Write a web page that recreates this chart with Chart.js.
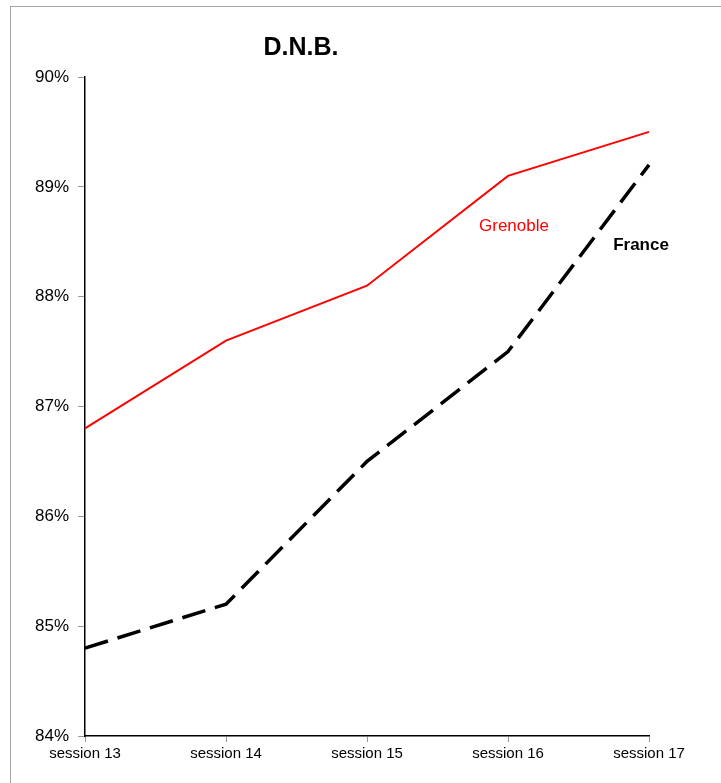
<!DOCTYPE html>
<html>
<head>
<meta charset="utf-8">
<script src="https://cdn.jsdelivr.net/npm/chart.js@4/dist/chart.umd.min.js"></script>
<style>
  html, body { margin: 0; padding: 0; background: #fff; }
  #wrap { position: relative; width: 721px; height: 783px; overflow: hidden; }
  #frame { position: absolute; left: 10px; top: 6px; width: 720px; height: 800px;
           border-top: 1px solid #a6a6a6; border-left: 1px solid #a6a6a6; }
  canvas { position: absolute; left: 0; top: 0; }
</style>
</head>
<body>
<div id="wrap">
  <div id="frame"></div>
  <canvas id="c" width="721" height="783"></canvas>
</div>
<script>
const categories = ["session 13", "session 14", "session 15", "session 16", "session 17"];
const grenoble = [86.8, 87.6, 88.1, 89.1, 89.5];
const france = [84.8, 85.2, 86.5, 87.5, 89.2];
const yTicks = [84, 85, 86, 87, 88, 89, 90];
const chartTitle = "D.N.B.";
const seriesNames = ["Grenoble", "France"];

const FONT = "'Liberation Sans', Arial, sans-serif";

const textPlugin = {
  id: 'texts',
  afterDraw(chart) {
    const ctx = chart.ctx;
    ctx.save();
    ctx.textAlign = 'center';
    ctx.textBaseline = 'middle';
    ctx.fillStyle = '#000';
    ctx.font = "bold 25px " + FONT;
    ctx.fillText(chartTitle, 301, 48);
    ctx.fillStyle = '#ff0000';
    ctx.font = "17px " + FONT;
    ctx.fillText(seriesNames[0], 514, 226);
    ctx.fillStyle = '#000';
    ctx.font = "bold 17px " + FONT;
    ctx.fillText(seriesNames[1], 641, 245);
    ctx.restore();
  }
};

new Chart(document.getElementById('c'), {
  type: 'line',
  data: {
    labels: categories,
    datasets: [
      { label: seriesNames[0], data: grenoble, borderColor: '#ff0000', borderWidth: 2,
        pointRadius: 0, tension: 0, fill: false },
      { label: seriesNames[1], data: france, borderColor: '#000000', borderWidth: 3.5,
        borderDash: [24, 10], pointRadius: 0, tension: 0, fill: false }
    ]
  },
  options: {
    responsive: false,
    devicePixelRatio: 1,
    animation: false,
    layout: { padding: { top: 77, right: 72, bottom: 0, left: 0 } },
    plugins: { legend: { display: false }, tooltip: { enabled: false }, title: { display: false } },
    scales: {
      x: {
        offset: false,
        grid: { drawOnChartArea: false, color: '#999', tickLength: 6, tickWidth: 1 },
        border: { color: '#000', width: 1.5 },
        ticks: { color: '#000', font: { family: FONT, size: 15 }, padding: 3, maxRotation: 0, autoSkip: false },
        afterFit(s) { s.height = 47; }
      },
      y: {
        min: 84, max: 90,
        afterBuildTicks(s) { s.ticks = yTicks.map(v => ({ value: v })); },
        grid: { drawOnChartArea: false, color: '#999', tickLength: 7, tickWidth: 1 },
        border: { color: '#000', width: 1.5 },
        ticks: { color: '#000', font: { family: FONT, size: 17 }, padding: 9,
                 callback: v => v + '%' },
        afterFit(s) { s.width = 85; }
      }
    }
  },
  plugins: [textPlugin]
});
</script>
</body>
</html>
